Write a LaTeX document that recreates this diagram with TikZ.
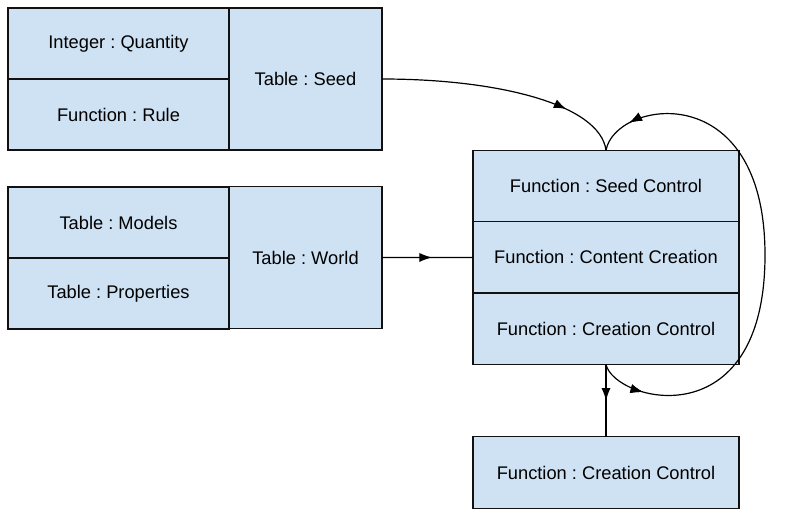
\documentclass[tikz,border=0pt]{standalone}
\usepackage{fontspec}
\setmainfont{Liberation Sans}
\usetikzlibrary{arrows.meta,positioning,decorations.markings}
\definecolor{CellBlue}{HTML}{CFE2F3}
\definecolor{EdgeBlack}{HTML}{111111}
\frenchspacing

\begin{document}
\begin{tikzpicture}[
  x=0.025cm, y=-0.025cm,
  font=\fontsize{13}{15}\selectfont,
  >=Latex,
  % record cell (light blue filled)
  cell/.style={draw=EdgeBlack, fill=CellBlue, line width=0.9pt,
               outer sep=0pt, inner sep=0pt, align=center},
  fieldbox/.style={cell, minimum width=5.525cm, minimum height=1.775cm},
  tablebox/.style={cell, minimum width=3.825cm, minimum height=3.55cm},
  funcbox/.style={cell, minimum width=6.65cm, minimum height=1.785cm},
  % connectors
  link/.style={draw=black, line width=0.85pt},
  midarrow/.style={postaction={decorate},
                   decoration={markings, mark=at position #1 with
                     {\arrow{Latex[length=9pt,width=6.5pt]}}}},
]

\useasboundingbox (0,0) rectangle (790,520);

%% ── Seed record ──────────────────────────────────────────────────────────
\node[fieldbox] (fq) at (118.5,43.5)  {Integer : Quantity};
\node[fieldbox, below=0pt of fq] (fr) {Function : Rule};
\node[tablebox] (ts) at (305.5,79)    {Table : Seed};

%% ── World record ─────────────────────────────────────────────────────────
\node[fieldbox] (fm) at (118.5,222.5) {Table : Models};
\node[fieldbox, below=0pt of fm] (fp) {Table : Properties};
\node[tablebox] (tw) at (305.5,257.5) {Table : World};

%% ── Function stack ───────────────────────────────────────────────────────
\node[funcbox] (sc) at (606,186)    {Function : Seed Control};
\node[funcbox, below=0pt of sc] (cr) {Function : Content Creation};
\node[funcbox, below=0pt of cr] (cc) {Function : Creation Control};
\node[funcbox] (cb) at (606,472.5)  {Function : Creation Control};

%% ── Connectors ───────────────────────────────────────────────────────────
\draw[link, midarrow=0.76]
  (ts.east) .. controls (500,79) and (600,105) .. (sc.north);
\draw[link, midarrow=0.55] (tw.east) -- (cr.west);
\draw[link, midarrow=0.5] (cc.south) -- (cb.north);

%% ── Control loop on the right ────────────────────────────────────────────
\draw[link, midarrow=0.09, midarrow=0.93]
  (cc.south) .. controls (615,402) and (765,440) .. (765,255)
             .. controls (765,75) and (615,100) .. (sc.north);

\end{tikzpicture}
\end{document}
